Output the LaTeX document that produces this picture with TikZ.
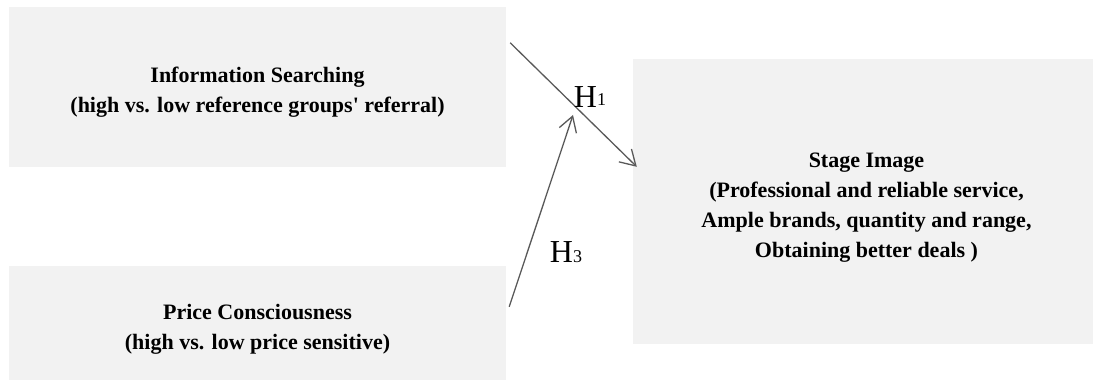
\documentclass[tikz,border=0pt]{standalone}
\usepackage{fontspec}
\setmainfont{Liberation Serif}
\usetikzlibrary{arrows.meta, positioning, calc}
\definecolor{boxgray}{HTML}{F2F2F2}
\definecolor{linegray}{HTML}{595959}

\begin{document}
\begin{tikzpicture}[x=1pt, y=1pt,
		factor/.style={fill=boxgray, inner sep=0pt},
		factortext/.style={align=center, inner sep=0pt,
			font=\fontsize{22}{30}\selectfont\bfseries},
		hyp/.style={draw=linegray, line width=1.3pt,
			-{Straight Barb[length=15pt, width=18pt]}},
		hlabel/.style={inner sep=0pt, font=\fontsize{32}{32}\selectfont}]
	\useasboundingbox (0,0) rectangle (1093,380);
	
	% 左边两个因素
	\node[factor, minimum width=497, minimum height=160] (info) at (257.5,293) {};
	\node[factortext] (infotext) at ([yshift=-5]info.center)
		{Information Searching\\(high vs. low reference groups\textquotesingle{} referral)};
	\node[factor, minimum width=497, minimum height=124] (price) at (257.5,52) {};
	\node[factortext] (pricetext) at ([yshift=-1]price.center)
		{Price Consciousness\\(high vs. low price sensitive)};
	
	% 右边:结果
	\node[factor, minimum width=467, minimum height=285] (stage) at (866.5,178.5) {};
	\node[factortext] (stagetext) at ([yshift=-6]stage.center)
		{Stage Image\\(Professional and reliable service,\\Ample brands, quantity and range,\\Obtaining better deals )};
	
	% 假设
	\coordinate (meet) at (573,265);
	\draw[hyp] ($(info.north east)+(4,-36)$) -- ($(stage.north west)+(4,-108)$);
	\draw[hyp] ($(price.north east)+(3,-41)$) -- (meet);
	\node[hlabel] (h1) at (590,283) {H\raisebox{2pt}{\fontsize{18}{18}\selectfont 1}};
	\node[hlabel] (h3) at (566,128) {H{\fontsize{18}{18}\selectfont 3}};
\end{tikzpicture}
\end{document}
